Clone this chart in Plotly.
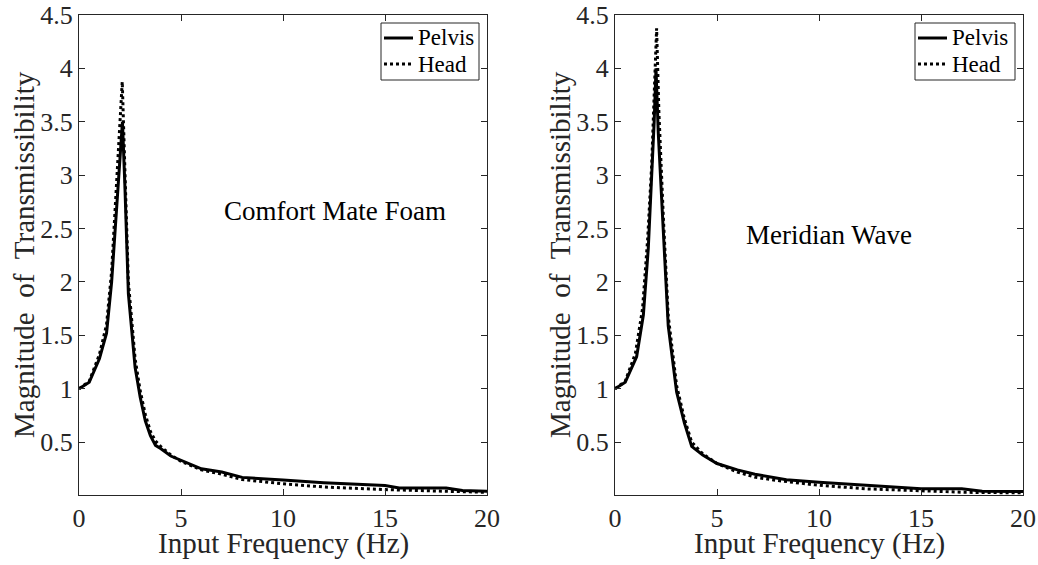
import plotly.graph_objects as go

# ---- data ----
freq_cmf_pelvis = [0, 0.5, 1.0, 1.35, 1.6, 1.85, 2.0, 2.13, 2.25, 2.42, 2.75, 3.0, 3.25, 3.5, 3.75, 4.0, 4.5, 5.0, 6.0, 7.0, 8.0, 10.0, 12.0, 15.0, 15.7, 18.0, 18.8, 20.0]
mag_cmf_pelvis = [1.0, 1.06, 1.28, 1.52, 2.0, 2.76, 3.2, 3.5, 2.9, 1.89, 1.2, 0.92, 0.70, 0.56, 0.47, 0.44, 0.37, 0.33, 0.25, 0.22, 0.17, 0.145, 0.12, 0.094, 0.07, 0.07, 0.047, 0.04]
freq_cmf_head = [0, 0.5, 1.0, 1.35, 1.6, 1.85, 2.0, 2.12, 2.25, 2.42, 2.75, 3.0, 3.25, 3.5, 3.75, 4.0, 4.5, 5.0, 6.0, 7.0, 8.0, 10.0, 12.0, 15.0, 18.0, 20.0]
mag_cmf_head = [1.0, 1.07, 1.32, 1.6, 2.1, 2.9, 3.45, 3.875, 3.05, 2.0, 1.28, 0.98, 0.76, 0.6, 0.51, 0.46, 0.38, 0.32, 0.24, 0.2, 0.15, 0.11, 0.08, 0.056, 0.04, 0.03]

freq_mw_pelvis = [0, 0.5, 1.06, 1.39, 1.63, 1.8, 1.92, 2.01, 2.12, 2.37, 2.61, 3.02, 3.4, 3.76, 4.3, 5.0, 6.0, 6.86, 8.4, 10.0, 12.5, 14.0, 15.0, 17.0, 18.0, 20.0]
mag_mw_pelvis = [1.0, 1.06, 1.30, 1.69, 2.31, 2.94, 3.5, 4.0, 3.4, 2.47, 1.59, 0.97, 0.68, 0.46, 0.38, 0.30, 0.24, 0.20, 0.147, 0.125, 0.094, 0.078, 0.063, 0.063, 0.04, 0.037]
freq_mw_head = [0, 0.5, 1.0, 1.35, 1.6, 1.8, 1.92, 2.04, 2.15, 2.37, 2.61, 3.02, 3.4, 3.76, 4.3, 5.0, 6.0, 6.9, 8.0, 9.8, 12.25, 14.7, 17.2, 20.0]
mag_mw_head = [1.0, 1.07, 1.33, 1.75, 2.4, 3.1, 3.75, 4.375, 3.6, 2.6, 1.68, 1.03, 0.72, 0.5, 0.39, 0.30, 0.22, 0.17, 0.14, 0.10, 0.063, 0.047, 0.03, 0.025]

x_ticks = [0, 5, 10, 15, 20]
y_ticks = [0.5, 1, 1.5, 2, 2.5, 3, 3.5, 4, 4.5]
y_tick_text = ["0.5", "1", "1.5", "2", "2.5", "3", "3.5", "4", "4.5"]
labels = ["Comfort Mate Foam", "Meridian Wave"]
series_names = ["Pelvis", "Head"]
series_dash = ["solid", "dot"]

FONT = "Liberation Serif, Times New Roman, serif"
AX = "#262626"
W, H = 1038, 565


def px(xs):
    """window x pixel -> paper fraction"""
    return xs / W


def py(ys):
    """window y pixel -> paper fraction"""
    return 1 - ys / H


fig = go.Figure()

panels = [
    (freq_cmf_pelvis, mag_cmf_pelvis, freq_cmf_head, mag_cmf_head, "x", "y"),
    (freq_mw_pelvis, mag_mw_pelvis, freq_mw_head, mag_mw_head, "x2", "y2"),
]
for fp, mp, fh, mh, xa, ya in panels:
    fig.add_trace(go.Scatter(x=fp, y=mp, mode="lines", name=series_names[0], showlegend=False,
                             line=dict(color="black", width=3, dash=series_dash[0]), xaxis=xa, yaxis=ya))
    fig.add_trace(go.Scatter(x=fh, y=mh, mode="lines", name=series_names[1], showlegend=False,
                             line=dict(color="black", width=3, dash=series_dash[1]), xaxis=xa, yaxis=ya))

dom_x1 = [px(79), px(487)]
dom_x2 = [px(615), px(1023)]
dom_y = [py(495), py(15)]

axis_common = dict(showline=True, linecolor=AX, linewidth=1.3, mirror="ticks", ticks="inside",
                   ticklen=6, tickcolor=AX, tickwidth=1, showgrid=False, zeroline=False,
                   automargin=False, ticklabeloverflow="allow",
                   tickfont=dict(family=FONT, size=26, color=AX))

fig.update_layout(
    width=W, height=H, margin=dict(l=0, r=0, t=0, b=0, autoexpand=False),
    paper_bgcolor="white", plot_bgcolor="white", showlegend=False,
    xaxis=dict(domain=dom_x1, range=[0, 20], tickvals=x_ticks, anchor="y", ticklabelstandoff=0, **axis_common),
    yaxis=dict(domain=dom_y, range=[0.005, 4.5], tickvals=y_ticks, ticktext=y_tick_text, anchor="x", **axis_common),
    xaxis2=dict(domain=dom_x2, range=[0, 20], tickvals=x_ticks, anchor="y2", ticklabelstandoff=0, **axis_common),
    yaxis2=dict(domain=dom_y, range=[0.005, 4.5], tickvals=y_ticks, ticktext=y_tick_text, anchor="x2", **axis_common),
)

# axis titles
ytitle = "Magnitude&nbsp;&nbsp;of&nbsp;&nbsp;Transmissibility"
xtitle = "Input Frequency (Hz)"
for xc_y, dx in ((24, dom_x1), (560, dom_x2)):
    fig.add_annotation(text=ytitle, xref="paper", yref="paper", x=px(xc_y), y=(dom_y[0] + dom_y[1]) / 2,
                       xanchor="center", yanchor="middle", textangle=-90, showarrow=False,
                       font=dict(family=FONT, size=29, color=AX))
    fig.add_annotation(text=xtitle, xref="paper", yref="paper", x=(dx[0] + dx[1]) / 2, y=py(543),
                       xanchor="center", yanchor="middle", showarrow=False,
                       font=dict(family=FONT, size=29, color=AX))

# panel labels
fig.add_annotation(text=labels[0], xref="x", yref="y", x=7.0, y=2.66, xanchor="left", showarrow=False,
                   font=dict(family=FONT, size=27, color="black"))
fig.add_annotation(text=labels[1], xref="x2", yref="y2", x=6.3, y=2.44, xanchor="left", showarrow=False,
                   font=dict(family=FONT, size=27, color="black"))

# legends (MATLAB-style boxes)
for bx0, bx1 in ((381, 479), (915, 1015)):
    fig.add_shape(type="rect", xref="paper", yref="paper", x0=px(bx0), x1=px(bx1), y0=py(23), y1=py(80),
                  line=dict(color=AX, width=1), fillcolor="white", layer="above")
    for i, (nm, ds) in enumerate(zip(series_names, series_dash)):
        yy = 38 + i * 26
        fig.add_shape(type="line", xref="paper", yref="paper", x0=px(bx0 + 3), x1=px(bx0 + 32),
                      y0=py(yy), y1=py(yy), line=dict(color="black", width=3, dash=ds), layer="above")
        fig.add_annotation(text=nm, xref="paper", yref="paper", x=px(bx0 + 35), y=py(yy),
                           xanchor="left", yanchor="middle", showarrow=False,
                           font=dict(family=FONT, size=23, color="black"))

# remove the default page margin so the 1038x565 figure fills the window exactly
fig.write_html("out.html", config={"displayModeBar": False},
               post_script="document.body.style.margin='0';document.body.style.overflow='hidden';")
